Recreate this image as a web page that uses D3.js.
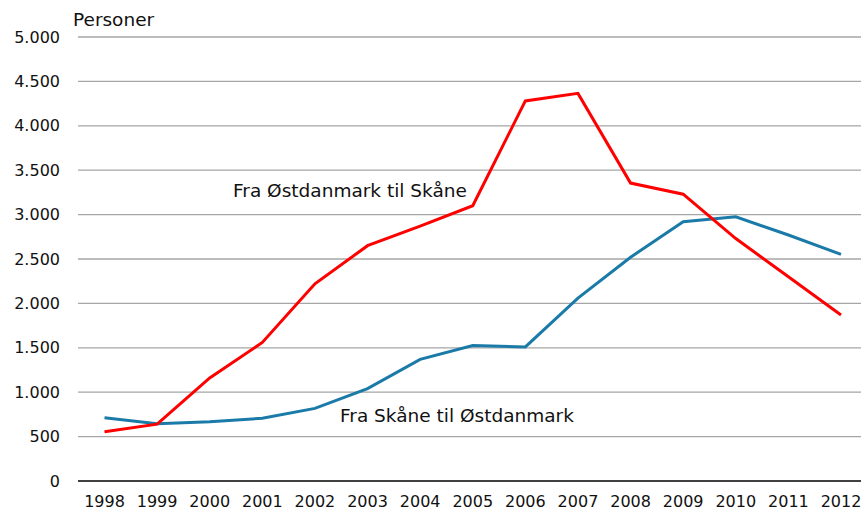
<!DOCTYPE html>
<html>
<head>
<meta charset="utf-8">
<script src="https://cdn.jsdelivr.net/npm/d3@7"></script>
<style>
  body { margin: 0; background: #fff; }
  text { font-family: "DejaVu Sans", sans-serif; fill: #111; }
</style>
</head>
<body>
<div id="chart"></div>
<script>
// data
const years = [1998, 1999, 2000, 2001, 2002, 2003, 2004, 2005, 2006, 2007, 2008, 2009, 2010, 2011, 2012];
const fraOstTilSkane = [555, 640, 1160, 1560, 2220, 2650, 2870, 3100, 4280, 4365, 3355, 3230, 2730, 2300, 1870];
const fraSkaneTilOst = [712, 645, 668, 706, 818, 1040, 1370, 1525, 1510, 2060, 2520, 2920, 2975, 2770, 2553];
const yTicks = [0, 500, 1000, 1500, 2000, 2500, 3000, 3500, 4000, 4500, 5000];

const width = 861, height = 510;
const margin = {top: 37, right: 0, bottom: 29, left: 78};

const svg = d3.select("#chart").append("svg")
    .attr("width", width)
    .attr("height", height);

const x = d3.scalePoint()
    .domain(years)
    .range([104.5, 841]);

const y = d3.scaleLinear()
    .domain([0, 5000])
    .range([height - margin.bottom, margin.top]);

const fmt = v => d3.format(",")(v).replace(/,/g, ".");

// gridlines
svg.append("g")
    .selectAll("line")
    .data(yTicks.filter(d => d > 0))
    .enter()
    .append("line")
    .attr("x1", margin.left)
    .attr("x2", width)
    .attr("y1", d => y(d))
    .attr("y2", d => y(d))
    .attr("stroke", "#a6a6a6")
    .attr("stroke-width", 1.3);

// y labels
svg.append("g")
    .selectAll("text")
    .data(yTicks)
    .enter()
    .append("text")
    .attr("x", 60)
    .attr("y", d => y(d))
    .attr("dy", "0.35em")
    .attr("text-anchor", "end")
    .style("font-size", "16px")
    .text(fmt);

// x axis line
svg.append("line")
    .attr("x1", margin.left)
    .attr("x2", width)
    .attr("y1", y(0))
    .attr("y2", y(0))
    .attr("stroke", "#000")
    .attr("stroke-width", 1.5);

// x labels
svg.append("g")
    .selectAll("text")
    .data(years)
    .enter()
    .append("text")
    .attr("x", d => x(d))
    .attr("y", 501)
    .attr("dy", "0.35em")
    .attr("text-anchor", "middle")
    .style("font-size", "16px")
    .text(d => d);

// title
svg.append("text")
    .attr("x", 73)
    .attr("y", 26)
    .style("font-size", "18.5px")
    .text("Personer");

const line = d3.line()
    .x((d, i) => x(years[i]))
    .y(d => y(d));

svg.append("path")
    .datum(fraSkaneTilOst)
    .attr("d", line)
    .attr("fill", "none")
    .attr("stroke", "#1a7aa8")
    .attr("stroke-width", 3);

svg.append("path")
    .datum(fraOstTilSkane)
    .attr("d", line)
    .attr("fill", "none")
    .attr("stroke", "#ff0000")
    .attr("stroke-width", 3);

// series labels
svg.append("text")
    .attr("x", 233)
    .attr("y", 197)
    .style("font-size", "18.5px")
    .text("Fra Østdanmark til Skåne");

svg.append("text")
    .attr("x", 340)
    .attr("y", 422)
    .style("font-size", "18.5px")
    .text("Fra Skåne til Østdanmark");
</script>
</body>
</html>
